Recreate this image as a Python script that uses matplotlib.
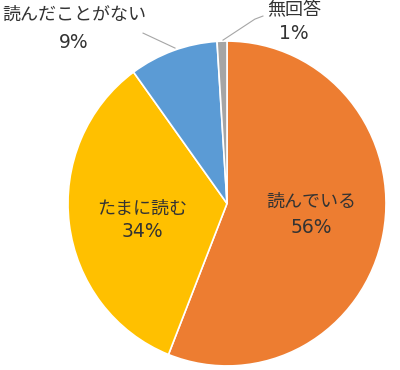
import matplotlib
matplotlib.use("Agg")
import matplotlib.pyplot as plt
import numpy as np

plt.rcParams['font.family'] = ['Noto Sans CJK JP', 'DejaVu Sans']

# data
labels = ["読んでいる", "たまに読む", "読んだことがない", "無回答"]
values = [56, 34, 9, 1]
colors = ["#ED7D31", "#FFC000", "#5B9BD5", "#A5A5A5"]

fig = plt.figure(figsize=(4.0, 3.7), dpi=100)
ax = fig.add_axes([0.17, 0.011, 0.795, 0.878])

wedges, _ = ax.pie(values, colors=colors, startangle=90, counterclock=False,
                   radius=1.0, wedgeprops=dict(edgecolor="white", linewidth=1.2))
ax.set_xlim(-1, 1)
ax.set_ylim(-1, 1)
ax.set_aspect("auto")

name_kw = dict(fontsize=13, color="#333333", ha="center", va="center")
pct_kw = dict(fontsize=13.5, color="#333333", ha="center", va="center",
              family=["DejaVu Sans"])


def put_label(x, y_name, y_pct, i):
    ax.text(x, y_name, labels[i], clip_on=False, **name_kw)
    ax.text(x, y_pct, f"{values[i]}%", clip_on=False, **pct_kw)


# labels inside the big slices
put_label(0.53, 0.01, -0.145, 0)
put_label(-0.535, -0.03, -0.175, 1)

# outside labels with leader lines
put_label(-0.962, 1.16, 0.994, 2)
put_label(0.42, 1.19, 1.049, 3)
ax.plot([-0.327, -0.528], [0.957, 1.049], color="#A6A6A6", lw=0.8, clip_on=False)
ax.plot([-0.025, 0.175, 0.226], [1.006, 1.135, 1.154], color="#A6A6A6", lw=0.8,
        clip_on=False)

fig.savefig("out.png", dpi=100)
